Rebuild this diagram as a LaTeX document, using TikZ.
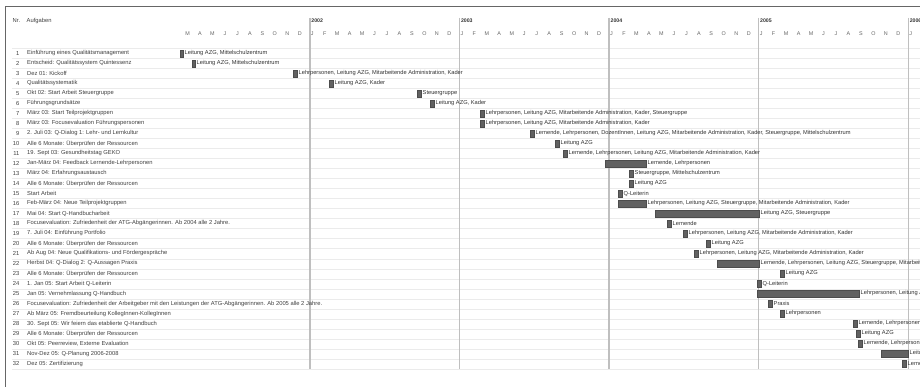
\documentclass[tikz,border=0pt]{standalone}
\usepackage{fontspec}
\setmainfont{Liberation Sans}
\usepackage{xcolor}
\usepackage{tikz}
\usetikzlibrary{positioning}
\colorlet{barcol}{black!62}
\colorlet{yearcol}{black!25}
\colorlet{rowcol}{black!8}
\colorlet{txtcol}{black!75}
\colorlet{framecol}{black!60}
\tikzset{
  task/.style={anchor=west, inner sep=0pt, text=txtcol, font=\fontsize{5.8}{6}\selectfont},
  nrtext/.style={anchor=east, inner sep=0pt, text=txtcol, font=\fontsize{5.8}{6}\selectfont},
  who/.style={anchor=west, inner sep=0pt, text=black!80, font=\fontsize{5.7}{6}\selectfont},
  month/.style={inner sep=0pt, text=black!60, font=\fontsize{5.4}{6}\selectfont},
  yearlab/.style={anchor=north west, inner sep=0pt, text=black!80, font=\fontsize{5.2}{6}\selectfont\bfseries},
  bar/.style={fill=barcol, draw=black!70, line width=0.3pt},
  rowline/.style={draw=rowcol, line width=0.6pt},
  yearline/.style={draw=yearcol, line width=1.5pt}
}

\begin{document}
\begin{tikzpicture}[x=1pt, y=-1pt]

\clip (0,0) rectangle (920,387);
\fill[white] (0,0) rectangle (920,387);

% ================= Frame =================
\draw[framecol, line width=0.8pt] (5,387) -- (5,6) -- (920,6);

% ================= Header =================
\node[task] (nr) at (12.5,21) {Nr.};
\node[task] (aufgaben) at (26.5,21) {Aufgaben};

% Months (Jan 2001 = index 0)
\foreach \l [count=\i from 0] in {
  J,F,M,A,M,J,J,A,S,O,N,D, J,F,M,A,M,J,J,A,S,O,N,D,
  J,F,M,A,M,J,J,A,S,O,N,D, J,F,M,A,M,J,J,A,S,O,N,D,
  J,F,M,A,M,J,J,A,S,O,N,D, J
}{
  \ifnum\i>1
    \node[month] (m\i) at (162.6+12.47*\i,33.3) {\l};
  \fi
}

% Row lines
\foreach \r in {0,...,32}{
  \draw[rowline] (12,48.8+10*\r) -- (920,48.8+10*\r);
}

% Years
\foreach \yr [count=\k from 0] in {2002,2003,2004,2005,2006}{
  \draw[yearline] (309.9+149.6*\k,18) -- (309.9+149.6*\k,369);
  \node[yearlab] (y\yr) at (311.2+149.6*\k,18.8) {\yr};
}

% ================= Tasks =================
\foreach \r/\t in {
  1/{Einführung eines Qualitätsmanagement},
  2/{Entscheid: Qualitätssystem Quintessenz},
  3/{Dez 01: Kickoff},
  4/{Qualitätssystematik},
  5/{Okt 02: Start Arbeit Steuergruppe},
  6/{Führungsgrundsätze},
  7/{März 03: Start Teilprojektgruppen},
  8/{März 03: Focusevaluation Führungspersonen},
  9/{2. Juli 03: Q-Dialog 1: Lehr- und Lernkultur},
  10/{Alle 6 Monate: Überprüfen der Ressourcen},
  11/{19. Sept 03: Gesundheitstag GEKO},
  12/{Jan-März 04: Feedback Lernende-Lehrpersonen},
  13/{März 04: Erfahrungsaustausch},
  14/{Alle 6 Monate: Überprüfen der Ressourcen},
  15/{Start Arbeit},
  16/{Feb-März 04: Neue Teilprojektgruppen},
  17/{Mai 04: Start Q-Handbucharbeit},
  18/{Focusevaluation: Zufriedenheit der ATG-Abgängerinnen. Ab 2004 alle 2 Jahre.},
  19/{7. Juli 04: Einführung Portfolio},
  20/{Alle 6 Monate: Überprüfen der Ressourcen},
  21/{Ab Aug 04: Neue Qualifikations- und Fördergespräche},
  22/{Herbst 04: Q-Dialog 2: Q-Aussagen Praxis},
  23/{Alle 6 Monate: Überprüfen der Ressourcen},
  24/{1. Jan 05: Start Arbeit Q-Leiterin},
  25/{Jan 05: Vernehmlassung Q-Handbuch},
  26/{Focusevaluation: Zufriedenheit der Arbeitgeber mit den Leistungen der ATG-Abgängerinnen. Ab 2005 alle 2 Jahre.},
  27/{Ab März 05: Fremdbeurteilung KollegInnen-KollegInnen},
  28/{30. Sept 05: Wir feiern das etablierte Q-Handbuch},
  29/{Alle 6 Monate: Überprüfen der Ressourcen},
  30/{Okt 05: Peerreview, Externe Evaluation},
  31/{Nov-Dez 05: Q-Planung 2006-2008},
  32/{Dez 05: Zertifizierung}
}{
  \node[nrtext] (n\r) at (19.5,43.5+10*\r) {\r};
  \node[task] (t\r) at (27,43.5+10*\r) {\t};
}

% ================= Bars =================
\foreach \r/\a/\b/\g in {
  1/180/183/{Leitung AZG, Mittelschulzentrum},
  2/192/195/{Leitung AZG, Mittelschulzentrum},
  3/293/297/{Lehrpersonen, Leitung AZG, Mitarbeitende Administration, Kader},
  4/329/333/{Leitung AZG, Kader},
  5/417/421/{Steuergruppe},
  6/430/434/{Leitung AZG, Kader},
  7/480/484/{Lehrpersonen, Leitung AZG, Mitarbeitende Administration, Kader, Steuergruppe},
  8/480/484/{Lehrpersonen, Leitung AZG, Mitarbeitende Administration, Kader},
  9/530/534/{Lernende, Lehrpersonen, DozentInnen, Leitung AZG, Mitarbeitende Administration, Kader, Steuergruppe, Mittelschulzentrum},
  10/555/559/{Leitung AZG},
  11/563/567/{Lernende, Lehrpersonen, Leitung AZG, Mitarbeitende Administration, Kader},
  12/605/646/{Lernende, Lehrpersonen},
  13/629/633/{Steuergruppe, Mittelschulzentrum},
  14/629/633/{Leitung AZG},
  15/618/622/{Q-Leiterin},
  16/618/646/{Lehrpersonen, Leitung AZG, Steuergruppe, Mitarbeitende Administration, Kader},
  17/655/759/{Leitung AZG, Steuergruppe},
  18/667/671/{Lernende},
  19/683/687/{Lehrpersonen, Leitung AZG, Mitarbeitende Administration, Kader},
  20/706/710/{Leitung AZG},
  21/694/698/{Lehrpersonen, Leitung AZG, Mitarbeitende Administration, Kader},
  22/717/759/{Lernende, Lehrpersonen, Leitung AZG, Steuergruppe, Mitarbeitende Administration},
  23/780/784/{Leitung AZG},
  24/757/761/{Q-Leiterin},
  25/757/859/{Lehrpersonen, Leitung AZG},
  26/768/772/{Praxis},
  27/780/784/{Lehrpersonen},
  28/853/857/{Lernende, Lehrpersonen},
  29/856/860/{Leitung AZG},
  30/858/862/{Lernende, Lehrpersonen},
  31/881/908/{Leitung AZG},
  32/902/906/{Lernende}
}{
  \draw[bar] (\a,40.3+10*\r) rectangle (\b,46.7+10*\r);
  \node[who] (w\r) at (\b+1.5,43.5+10*\r) {\g};
}

\end{tikzpicture}
\end{document}
